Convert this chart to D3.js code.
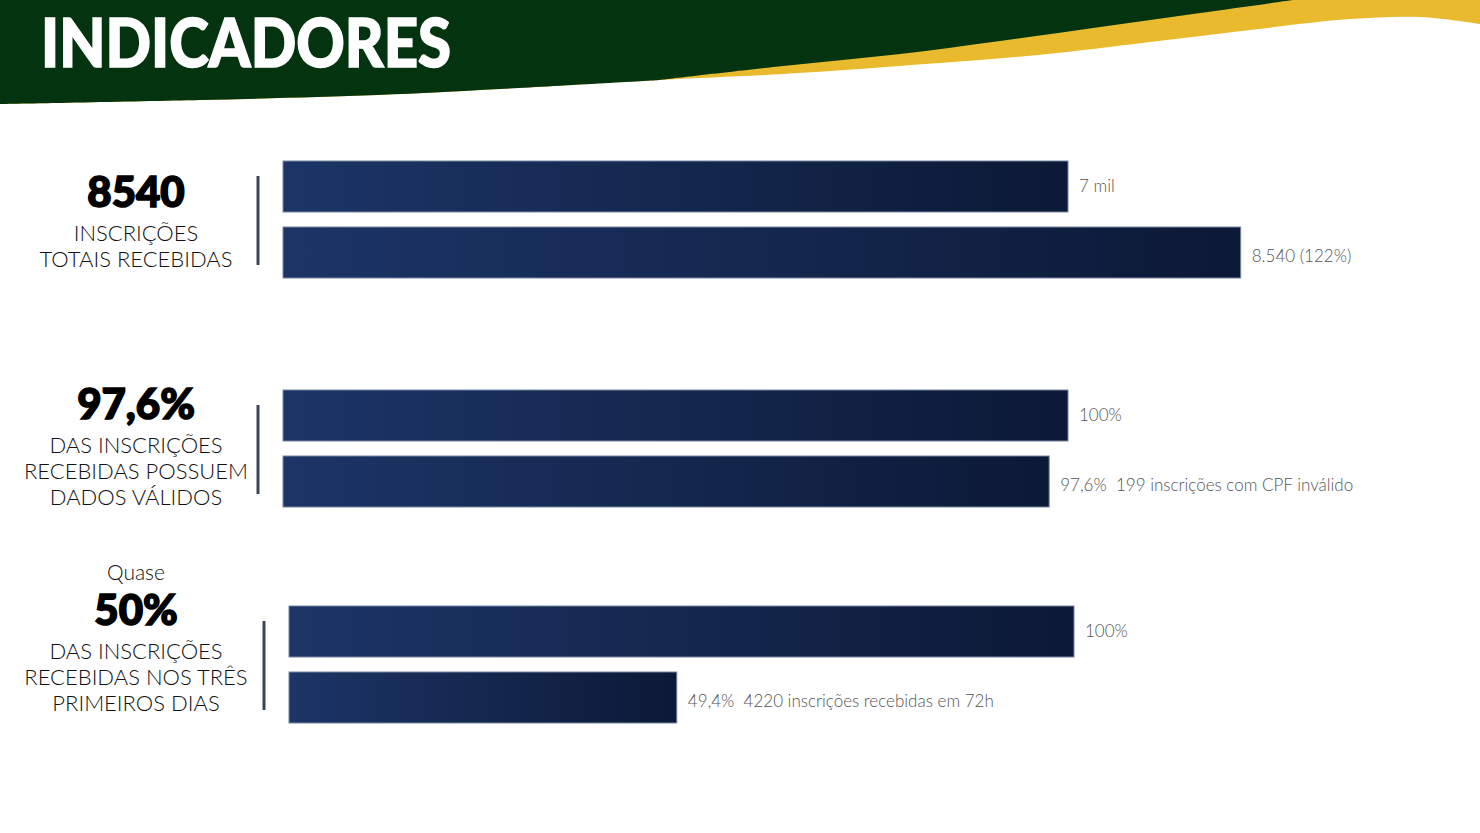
<!DOCTYPE html>
<html>
<head>
    <title>indicadores</title>
    <meta charset="utf-8">
    <script type="text/javascript" src="https://cdn.jsdelivr.net/npm/d3@7/dist/d3.min.js"></script>
    <style type="text/css">
        body {
            margin: 0;
            background-color: #fff;
        }
        #chart {
            display: block;
        }
        .desc {
            font-family: Lato, sans-serif;
            font-weight: 300;
            font-size: 22px;
            fill: #111;
        }
        .big {
            font-family: Lato, sans-serif;
            font-weight: 900;
            font-size: 42px;
            fill: #000;
            stroke: #000;
            stroke-width: 1.6px;
        }
        .val {
            font-family: Lato, sans-serif;
            font-weight: 300;
            font-size: 17px;
            fill: #555;
            white-space: pre;
        }
    </style>
</head>

<body>
    <svg id="chart" width="1480" height="833"></svg>
</body>

<script type="text/javascript">
    // data
    const groups = ["inscricoes", "validos", "tres_dias"];
    const headlines = ["8540", "97,6%", "50%"];
    const prefixes = ["", "", "Quase"];
    const descLines = [
        ["INSCRIÇÕES", "TOTAIS RECEBIDAS"],
        ["DAS INSCRIÇÕES", "RECEBIDAS POSSUEM", "DADOS VÁLIDOS"],
        ["DAS INSCRIÇÕES", "RECEBIDAS NOS TRÊS", "PRIMEIROS DIAS"]
    ];
    const metaValues = [100, 100, 100];      // meta (7 mil / 100%)
    const actualValues = [122, 97.6, 49.4];  // realizado, em % da meta
    const metaLabels = ["7 mil", "100%", "100%"];
    const actualLabels = [
        "8.540 (122%)",
        "97,6%  199 inscrições com CPF inválido",
        "49,4%  4220 inscrições recebidas em 72h"
    ];

    const svg = d3.select("#chart");

    // ---- header band ----
    const edge = d3.line().curve(d3.curveCatmullRom);
    const whiteEdge = [[1480, 24], [1420, 17], [1350, 19], [1250, 30], [1150, 42], [1038, 55],
                       [900, 66], [783, 74], [660, 80], [500, 89], [377, 95], [200, 100], [0, 104]];
    const greenEdge = [[1293, 0], [1200, 13], [1100, 27], [1000, 41], [900, 54], [783, 66], [660, 80]];

    svg.append("path")
        .attr("d", "M0,0L1480,0" + edge(whiteEdge).replace(/^M/, "L") + "Z")
        .attr("fill", "#e9b92e");
    svg.append("path")
        .attr("d", "M0,0" + edge(greenEdge).replace(/^M/, "L") +
                   edge(whiteEdge.slice(8)).replace(/^M/, "L") + "Z")
        .attr("fill", "#03330f");

    svg.append("text")
        .attr("x", 41).attr("y", 67)
        .attr("textLength", 410).attr("lengthAdjust", "spacingAndGlyphs")
        .style("font-family", "Lato, sans-serif")
        .style("font-weight", 900)
        .style("font-size", "66px")
        .style("fill", "#fff")
        .style("stroke", "#fff")
        .style("stroke-width", "1.5px")
        .text("INDICADORES");

    // ---- gradient for bars ----
    const grad = svg.append("defs").append("linearGradient")
        .attr("id", "barGrad").attr("x1", "0%").attr("x2", "100%");
    grad.append("stop").attr("offset", "0%").attr("stop-color", "#1c3566");
    grad.append("stop").attr("offset", "100%").attr("stop-color", "#0c1936");

    // ---- scales ----
    const x = d3.scaleLinear().domain([0, 100]).range([0, 785]);
    const groupTop = d3.scaleOrdinal().domain(groups).range([161, 390, 606]);
    const groupLeft = d3.scaleOrdinal().domain(groups).range([283, 283, 289]);
    const textTop = d3.scaleOrdinal().domain(groups).range([207, 419, 625]);
    const row = d3.scaleBand().domain(["meta", "atual"]).range([0, 117]).paddingInner(15 / 66);

    groups.forEach(function(g, i) {
        const gx = groupLeft(g);
        const gy = groupTop(g);
        const grp = svg.append("g").attr("transform", "translate(" + gx + "," + gy + ")");

        const bars = [
            {key: "meta", val: metaValues[i], label: metaLabels[i], dy: 0},
            {key: "atual", val: actualValues[i], label: actualLabels[i], dy: 4}
        ];

        grp.selectAll("rect").data(bars).join("rect")
            .attr("x", 0)
            .attr("y", function(d) { return row(d.key); })
            .attr("width", function(d) { return x(d.val); })
            .attr("height", row.bandwidth())
            .attr("fill", "url(#barGrad)")
            .attr("stroke", "#7886a0")
            .attr("stroke-width", 1);

        grp.selectAll("text.val").data(bars).join("text")
            .attr("class", "val")
            .attr("x", function(d) { return x(d.val) + 11; })
            .attr("y", function(d) { return row(d.key) + row.bandwidth() / 2 + d.dy; })
            .attr("dy", "0.35em")
            .text(function(d) { return d.label; });

        // divider
        const span = row.range()[1];
        svg.append("line")
            .attr("x1", gx - 25).attr("x2", gx - 25)
            .attr("y1", gy + 15).attr("y2", gy + span - 13)
            .attr("stroke", "#3a4556")
            .attr("stroke-width", 3);

        // left text block
        const ty = textTop(g);
        if (prefixes[i]) {
            svg.append("text").attr("class", "desc")
                .attr("x", 136).attr("y", ty - 45)
                .attr("text-anchor", "middle")
                .style("font-size", "21px")
                .text(prefixes[i]);
        }
        svg.append("text").attr("class", "big")
            .attr("x", 136).attr("y", ty)
            .attr("text-anchor", "middle")
            .text(headlines[i]);
        descLines[i].forEach(function(line, j) {
            svg.append("text").attr("class", "desc")
                .attr("x", 136).attr("y", ty + 34 + j * 26)
                .attr("text-anchor", "middle")
                .text(line);
        });
    });
</script>

</html>
